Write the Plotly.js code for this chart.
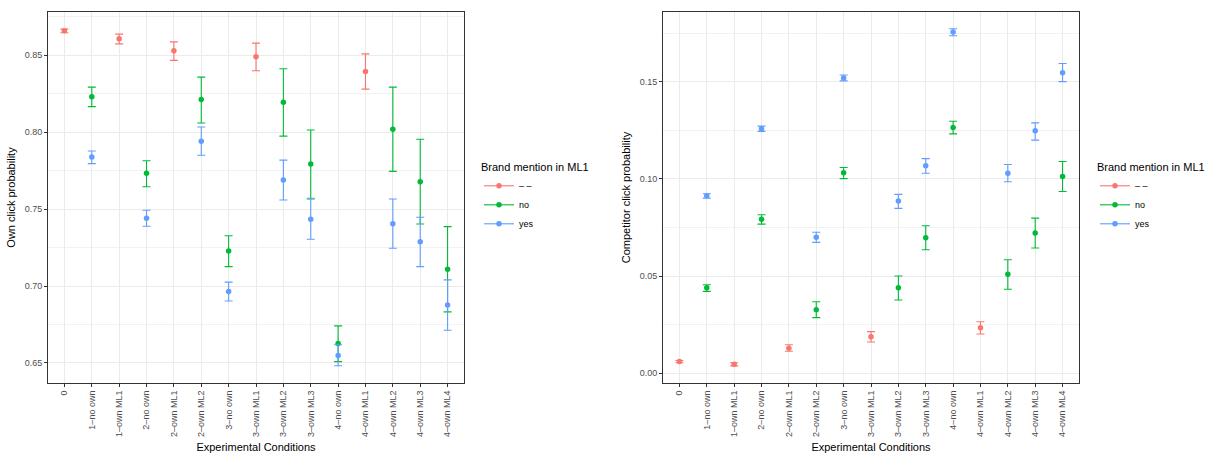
<!DOCTYPE html>
<html>
<head>
<meta charset="utf-8">
<script src="https://cdn.plot.ly/plotly-3.0.1.min.js"></script>
<style>html,body{margin:0;padding:0;background:#fff;}#chart{width:1211px;height:453px;}</style>
</head>
<body>
<div id="chart"></div>
<script>
// ---- categories ----
const categories = ['0','1–no own','1–own ML1','2–no own','2–own ML1','2–own ML2','3–no own','3–own ML1','3–own ML2','3–own ML3','4–no own','4–own ML1','4–own ML2','4–own ML3','4–own ML4'];
const redCats = ['0','1–own ML1','2–own ML1','3–own ML1','4–own ML1'];
const grpCats = ['1–no own','2–no own','2–own ML2','3–no own','3–own ML2','3–own ML3','4–no own','4–own ML2','4–own ML3','4–own ML4'];
const seriesNames = ['– –','no','yes'];

// ---- Own click probability ----
const own_red    = [0.8658, 0.8606, 0.8528, 0.8489, 0.8394];
const own_red_lo = [0.8645, 0.8573, 0.8466, 0.8398, 0.8279];
const own_red_hi = [0.8669, 0.8636, 0.8586, 0.8578, 0.8508];
const own_no     = [0.8229, 0.7732, 0.8212, 0.7228, 0.8193, 0.7793, 0.6626, 0.8018, 0.7678, 0.7109];
const own_no_lo  = [0.8165, 0.7645, 0.8059, 0.7126, 0.7974, 0.7565, 0.6509, 0.7745, 0.7403, 0.6832];
const own_no_hi  = [0.8292, 0.7814, 0.8357, 0.7327, 0.8411, 0.8013, 0.6741, 0.8292, 0.7953, 0.7386];
const own_yes    = [0.7838, 0.7440, 0.7940, 0.6964, 0.7689, 0.7434, 0.6548, 0.7405, 0.7288, 0.6876];
const own_yes_lo = [0.7795, 0.7388, 0.7849, 0.6903, 0.7559, 0.7304, 0.6482, 0.7245, 0.7126, 0.6713];
const own_yes_hi = [0.7877, 0.7492, 0.8033, 0.7025, 0.7818, 0.7570, 0.6618, 0.7565, 0.7447, 0.7040];

// ---- Competitor click probability ----
const comp_red    = [0.0060, 0.0046, 0.0129, 0.0188, 0.0234];
const comp_red_lo = [0.0054, 0.0038, 0.0113, 0.0161, 0.0202];
const comp_red_hi = [0.0066, 0.0054, 0.0147, 0.0214, 0.0265];
const comp_no     = [0.0440, 0.0792, 0.0327, 0.1031, 0.0440, 0.0697, 0.1264, 0.0509, 0.0721, 0.1012];
const comp_no_lo  = [0.0421, 0.0767, 0.0286, 0.1001, 0.0377, 0.0635, 0.1231, 0.0432, 0.0644, 0.0935];
const comp_no_hi  = [0.0455, 0.0815, 0.0368, 0.1058, 0.0500, 0.0759, 0.1296, 0.0584, 0.0798, 0.1089];
const comp_yes    = [0.0913, 0.1257, 0.0699, 0.1519, 0.0886, 0.1067, 0.1755, 0.1029, 0.1247, 0.1546];
const comp_yes_lo = [0.0901, 0.1244, 0.0673, 0.1504, 0.0848, 0.1029, 0.1736, 0.0985, 0.1199, 0.1500];
const comp_yes_hi = [0.0923, 0.1271, 0.0725, 0.1534, 0.0920, 0.1104, 0.1772, 0.1074, 0.1288, 0.1593];

const colors = ['#F8766D', '#00BA38', '#619CFF'];
const FONT = 'Liberation Sans, Arial, Helvetica, sans-serif';

function sub(a, b) { return a.map((v, i) => v - b[i]); }

function pointTrace(cats, y, lo, hi, ci, xa, ya) {
  return {
    type: 'scatter', mode: 'markers', x: cats, y: y, xaxis: xa, yaxis: ya,
    showlegend: false, hoverinfo: 'x+y',
    marker: { color: colors[ci], size: 5.5 },
    error_y: { type: 'data', symmetric: false, array: sub(hi, y), arrayminus: sub(y, lo),
               color: colors[ci], thickness: 1.1, width: 4 }
  };
}
function legendTrace(ci, xa, ya, lg) {
  return {
    type: 'scatter', mode: 'lines+markers', x: [null], y: [null], xaxis: xa, yaxis: ya,
    name: seriesNames[ci], legend: lg, showlegend: true,
    marker: { color: colors[ci], size: 5.5 }, line: { color: colors[ci], width: 1.1 }
  };
}

const data = [
  pointTrace(redCats, own_red, own_red_lo, own_red_hi, 0, 'x', 'y'),
  pointTrace(grpCats, own_no, own_no_lo, own_no_hi, 1, 'x', 'y'),
  pointTrace(grpCats, own_yes, own_yes_lo, own_yes_hi, 2, 'x', 'y'),
  pointTrace(redCats, comp_red, comp_red_lo, comp_red_hi, 0, 'x2', 'y2'),
  pointTrace(grpCats, comp_no, comp_no_lo, comp_no_hi, 1, 'x2', 'y2'),
  pointTrace(grpCats, comp_yes, comp_yes_lo, comp_yes_hi, 2, 'x2', 'y2'),
  legendTrace(0, 'x', 'y', 'legend'), legendTrace(1, 'x', 'y', 'legend'), legendTrace(2, 'x', 'y', 'legend'),
  legendTrace(0, 'x2', 'y2', 'legend2'), legendTrace(1, 'x2', 'y2', 'legend2'), legendTrace(2, 'x2', 'y2', 'legend2')
];

function xAxis(domain, anchor) {
  return {
    domain: domain, anchor: anchor, type: 'category',
    categoryorder: 'array', categoryarray: categories, range: [-0.6, 14.6],
    tickangle: -90, tickfont: { size: 9, color: '#4D4D4D', family: FONT },
    ticks: 'outside', ticklen: 3, tickcolor: '#333333', tickwidth: 1,
    showgrid: true, gridcolor: '#EBEBEB', gridwidth: 1,
    showline: true, mirror: true, linecolor: '#333333', linewidth: 1,
    zeroline: false,
    title: { text: 'Experimental Conditions', font: { size: 11, color: '#000', family: FONT }, standoff: 7 }
  };
}
function yAxis(domain, anchor, range, title) {
  return {
    domain: domain, anchor: anchor, range: range, dtick: 0.05, tick0: 0, tickformat: '.2f',
    tickfont: { size: 9, color: '#4D4D4D', family: FONT },
    ticks: 'outside', ticklen: 3, tickcolor: '#333333', tickwidth: 1,
    showgrid: true, gridcolor: '#EBEBEB', gridwidth: 1,
    minor: { dtick: 0.025, tick0: 0, showgrid: true, gridcolor: '#F2F2F2', gridwidth: 1, ticks: '' },
    showline: true, mirror: true, linecolor: '#333333', linewidth: 1,
    zeroline: false,
    title: { text: title, font: { size: 11, color: '#000', family: FONT }, standoff: 6 }
  };
}

const yDom = [1 - 383/453, 1 - 12/453];
const layout = {
  width: 1211, height: 453,
  margin: { l: 0, r: 0, t: 0, b: 0 },
  paper_bgcolor: '#fff', plot_bgcolor: '#fff',
  font: { family: FONT },
  xaxis: xAxis([48/1211, 464/1211], 'y'),
  yaxis: yAxis(yDom, 'x', [0.637, 0.878], 'Own click probability'),
  xaxis2: xAxis([663/1211, 1079/1211], 'y2'),
  yaxis2: yAxis(yDom, 'x2', [-0.005, 0.1858], 'Competitor click probability'),
  legend: {
    x: 479/1211, y: 1 - 157/453, xanchor: 'left', yanchor: 'top',
    bgcolor: 'rgba(0,0,0,0)', font: { size: 9, color: '#000', family: FONT },
    title: { text: 'Brand mention in ML1', font: { size: 11, color: '#000', family: FONT }, side: 'top' },
    tracegroupgap: 0
  },
  legend2: {
    x: 1095/1211, y: 1 - 157/453, xanchor: 'left', yanchor: 'top',
    bgcolor: 'rgba(0,0,0,0)', font: { size: 9, color: '#000', family: FONT },
    title: { text: 'Brand mention in ML1', font: { size: 11, color: '#000', family: FONT }, side: 'top' },
    tracegroupgap: 0
  }
};

Plotly.newPlot('chart', data, layout, { displayModeBar: false, staticPlot: true });
</script>
</body>
</html>
